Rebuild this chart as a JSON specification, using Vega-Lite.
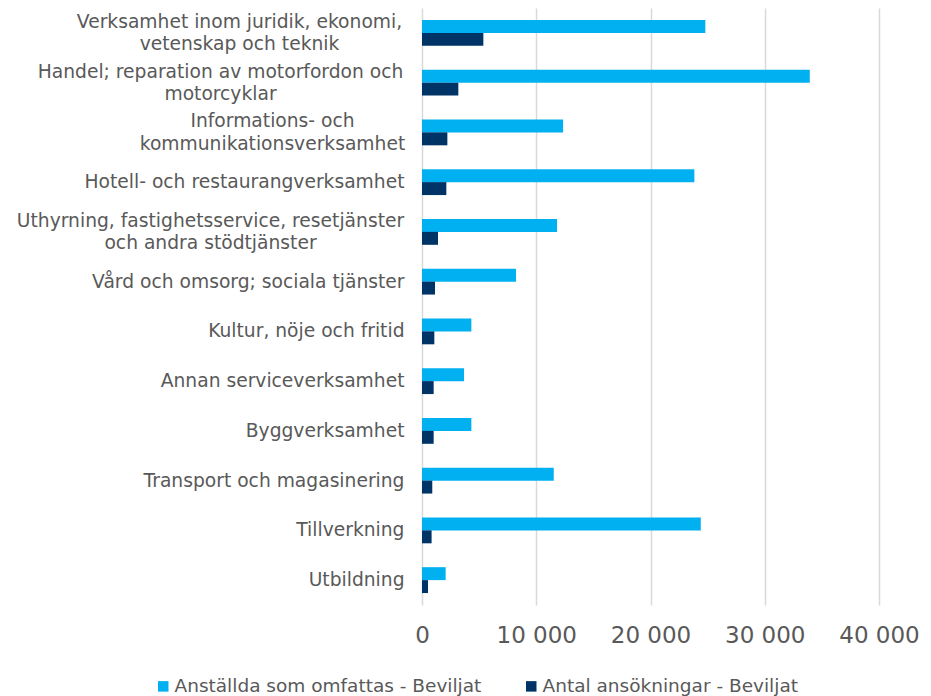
{
  "$schema": "https://vega.github.io/schema/vega-lite/v6.json",
  "width": 457,
  "height": 597,
  "autosize": {"type": "none"},
  "padding": {"left": 422, "top": 8, "right": 52, "bottom": 91},
  "background": "white",
  "config": {
    "view": {"stroke": null},
    "font": "DejaVu Sans"
  },
  "data": {
    "values": [
      {"category": "Verksamhet inom juridik, ekonomi, vetenskap och teknik", "series": "Anställda som omfattas - Beviljat", "value": 24800},
      {"category": "Verksamhet inom juridik, ekonomi, vetenskap och teknik", "series": "Antal ansökningar - Beviljat", "value": 5370},
      {"category": "Handel; reparation av motorfordon och motorcyklar", "series": "Anställda som omfattas - Beviljat", "value": 33940},
      {"category": "Handel; reparation av motorfordon och motorcyklar", "series": "Antal ansökningar - Beviljat", "value": 3180},
      {"category": "Informations- och kommunikationsverksamhet", "series": "Anställda som omfattas - Beviljat", "value": 12350},
      {"category": "Informations- och kommunikationsverksamhet", "series": "Antal ansökningar - Beviljat", "value": 2220},
      {"category": "Hotell- och restaurangverksamhet", "series": "Anställda som omfattas - Beviljat", "value": 23840},
      {"category": "Hotell- och restaurangverksamhet", "series": "Antal ansökningar - Beviljat", "value": 2130},
      {"category": "Uthyrning, fastighetsservice, resetjänster och andra stödtjänster", "series": "Anställda som omfattas - Beviljat", "value": 11820},
      {"category": "Uthyrning, fastighetsservice, resetjänster och andra stödtjänster", "series": "Antal ansökningar - Beviljat", "value": 1400},
      {"category": "Vård och omsorg; sociala tjänster", "series": "Anställda som omfattas - Beviljat", "value": 8230},
      {"category": "Vård och omsorg; sociala tjänster", "series": "Antal ansökningar - Beviljat", "value": 1140},
      {"category": "Kultur, nöje och fritid", "series": "Anställda som omfattas - Beviljat", "value": 4320},
      {"category": "Kultur, nöje och fritid", "series": "Antal ansökningar - Beviljat", "value": 1080},
      {"category": "Annan serviceverksamhet", "series": "Anställda som omfattas - Beviljat", "value": 3680},
      {"category": "Annan serviceverksamhet", "series": "Antal ansökningar - Beviljat", "value": 1020},
      {"category": "Byggverksamhet", "series": "Anställda som omfattas - Beviljat", "value": 4320},
      {"category": "Byggverksamhet", "series": "Antal ansökningar - Beviljat", "value": 1020},
      {"category": "Transport och magasinering", "series": "Anställda som omfattas - Beviljat", "value": 11530},
      {"category": "Transport och magasinering", "series": "Antal ansökningar - Beviljat", "value": 900},
      {"category": "Tillverkning", "series": "Anställda som omfattas - Beviljat", "value": 24400},
      {"category": "Tillverkning", "series": "Antal ansökningar - Beviljat", "value": 840},
      {"category": "Utbildning", "series": "Anställda som omfattas - Beviljat", "value": 2070},
      {"category": "Utbildning", "series": "Antal ansökningar - Beviljat", "value": 525}
    ]
  },
  "mark": {"type": "bar"},
  "encoding": {
    "y": {
      "field": "category",
      "type": "nominal",
      "sort": null,
      "scale": {"paddingInner": 0.48, "paddingOuter": 0.24},
      "axis": {
        "title": null,
        "domain": false,
        "ticks": false,
        "grid": false,
        "labelFontSize": 18.7,
        "labelColor": "#595959",
        "labelFont": "DejaVu Sans",
        "labelLimit": 420,
        "labelLineHeight": 22.5,
        "labelAlign": {
          "condition": {"test": "indexof(datum.value, 'ekonomi,') >= 0 || indexof(datum.value, 'motorfordon') >= 0 || indexof(datum.value, 'Informations-') >= 0 || indexof(datum.value, 'resetjänster') >= 0", "value": "center"},
          "value": "right"
        },
        "labelOffset": {
          "condition": {"test": "indexof(datum.value, 'ekonomi,') >= 0 || indexof(datum.value, 'motorfordon') >= 0 || indexof(datum.value, 'Informations-') >= 0 || indexof(datum.value, 'resetjänster') >= 0", "value": -11},
          "value": 0
        },
        "labelPadding": {
          "condition": [
            {"test": "indexof(datum.value, 'ekonomi,') >= 0", "value": 183},
            {"test": "indexof(datum.value, 'motorfordon') >= 0", "value": 202},
            {"test": "indexof(datum.value, 'Informations-') >= 0", "value": 150},
            {"test": "indexof(datum.value, 'resetjänster') >= 0", "value": 212}
          ],
          "value": 18
        },
        "labelExpr": "split(replace(replace(replace(replace(datum.label, 'ekonomi, ', 'ekonomi,|'), 'motorfordon och ', 'motorfordon och|'), 'Informations- och ', 'Informations- och|'), 'resetjänster och', 'resetjänster|och'), '|')"
      }
    },
    "yOffset": {
      "field": "series",
      "type": "nominal",
      "sort": ["Anställda som omfattas - Beviljat", "Antal ansökningar - Beviljat"]
    },
    "x": {
      "field": "value",
      "type": "quantitative",
      "scale": {"domain": [0, 40000], "nice": false},
      "axis": {
        "title": null,
        "values": [0, 10000, 20000, 30000, 40000],
        "domain": false,
        "ticks": false,
        "grid": true,
        "gridColor": "#D9D9D9",
        "gridWidth": 1.5,
        "labelPadding": 19,
        "labelFontSize": 23,
        "labelOverlap": false,
        "labelFlush": false,
        "labelColor": "#595959",
        "labelFont": "DejaVu Sans",
        "labelExpr": "replace(format(datum.value, ','), ',', ' ')"
      }
    },
    "color": {
      "field": "series",
      "type": "nominal",
      "scale": {
        "domain": ["Anställda som omfattas - Beviljat", "Antal ansökningar - Beviljat"],
        "range": ["#00B0F0", "#003366"]
      },
      "legend": {
        "title": null,
        "orient": "none",
        "direction": "horizontal",
        "legendX": -268,
        "legendY": 669,
        "symbolType": "square",
        "symbolSize": 110,
        "symbolStrokeWidth": 0,
        "labelFontSize": 18.5,
        "labelColor": "#595959",
        "labelFont": "DejaVu Sans",
        "labelOffset": 2,
        "columnPadding": 40,
        "labelLimit": 400
      }
    }
  }
}
